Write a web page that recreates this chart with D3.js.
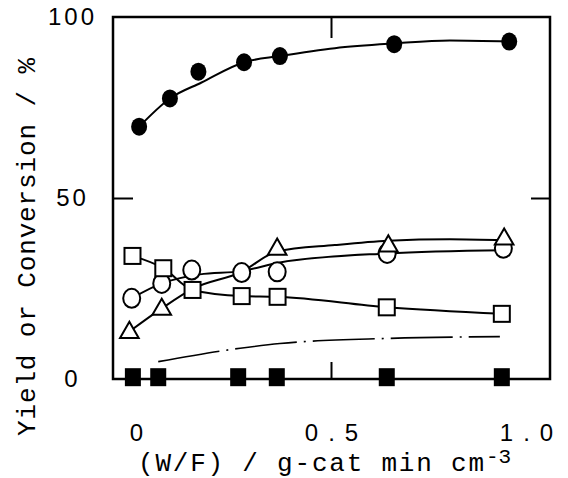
<!DOCTYPE html>
<html>
<head>
<meta charset="utf-8">
<script src="https://cdn.jsdelivr.net/npm/d3@7"></script>
<style>
    body { margin: 0; background: #fff; }
    svg { display: block; }
</style>
</head>
<body>
<svg id="chart" width="568" height="478"></svg>
<script>
// axis ticks
var xTicks = [0, 0.5, 1.0];
var xTickLabels = ["0", "0.5", "1.0"];
var yTicks = [0, 50, 100];
var yTickLabels = ["0", "50", "100"];

// filled circles (conversion)
var convX = [0.008, 0.087, 0.16, 0.277, 0.369, 0.662, 0.957];
var convY = [69.7, 77.5, 84.9, 87.5, 89.2, 92.5, 93.2];
var convCurveX = [0.008, 0.087, 0.168, 0.277, 0.369, 0.51, 0.662, 0.805, 0.957];
var convCurveY = [69.7, 77.5, 81.9, 87.5, 89.2, 91.4, 92.7, 93.5, 93.2];

// open circles
var circX = [-0.011, 0.066, 0.143, 0.271, 0.362, 0.644, 0.942];
var circY = [22.3, 26.4, 30.1, 29.4, 29.6, 34.7, 36.1];
var circCurveX = [-0.011, 0.066, 0.164, 0.271, 0.369, 0.644, 0.942];
var circCurveY = [22.3, 26.4, 28.9, 29.8, 32.2, 34.7, 35.6];

// open triangles (two are hidden under other symbols)
var triX = [-0.017, 0.066, 0.362, 0.647, 0.944];
var triY = [13.1, 19.5, 36.1, 37.0, 38.9];
var triCurveX = [-0.017, 0.066, 0.145, 0.271, 0.361, 0.51, 0.647, 0.805, 0.944];
var triCurveY = [13.1, 19.5, 24.9, 29.6, 35.2, 37.0, 38.2, 38.6, 38.3];

// open squares
var sqX = [-0.009, 0.07, 0.145, 0.271, 0.363, 0.643, 0.938];
var sqY = [34.0, 30.6, 24.6, 22.9, 22.7, 19.8, 18.0];

// filled squares
var fsqX = [-0.008, 0.057, 0.262, 0.361, 0.643, 0.938];
var fsqY = [0.5, 0.5, 0.5, 0.5, 0.5, 0.5];

// dash-dot line, no symbols
var dashX = [0.057, 0.267, 0.369, 0.643, 0.933];
var dashY = [4.8, 8.5, 9.8, 11.2, 11.7];

var svg = d3.select("#chart");
svg.append("rect").attr("width", 568).attr("height", 478).attr("fill", "#fff");

var x = d3.scaleLinear().domain([0, 1]).range([136, 526]);
var y = d3.scaleLinear().domain([0, 100]).range([379, 17]);
var left = 113, right = 550;

var line = d3.line()
    .x(function(d) { return x(d[0]); })
    .y(function(d) { return y(d[1]); })
    .curve(d3.curveMonotoneX);

// frame
svg.append("rect")
    .attr("x", left).attr("y", y(100))
    .attr("width", right - left).attr("height", y(0) - y(100))
    .attr("fill", "none").attr("stroke", "#000").attr("stroke-width", 2.5);

// inner ticks
function ticks(g) {
    g.select(".domain").remove();
    g.selectAll("line").attr("stroke", "#000").attr("stroke-width", 2);
}
svg.append("g").attr("transform", "translate(" + left + ",0)")
    .call(d3.axisLeft(y).tickValues([50]).tickSize(-20).tickFormat(""))
    .call(ticks);
svg.append("g").attr("transform", "translate(" + right + ",0)")
    .call(d3.axisRight(y).tickValues([50]).tickSize(-19).tickFormat(""))
    .call(ticks);
svg.append("g").attr("transform", "translate(0," + y(0) + ")")
    .call(d3.axisBottom(x).tickValues([0.5]).tickSize(-17).tickFormat(""))
    .call(ticks);
svg.append("g").attr("transform", "translate(0," + y(100) + ")")
    .call(d3.axisTop(x).tickValues([0.5]).tickSize(-21).tickFormat(""))
    .call(ticks);

// tick labels
var yAxis = svg.append("g")
    .call(d3.axisLeft(y).tickValues(yTicks).tickSize(0)
        .tickFormat(function(d, i) { return yTickLabels[i]; }));
yAxis.select(".domain").remove();
yAxis.selectAll("text")
    .attr("x", 71).attr("dx", 1.5).attr("text-anchor", "middle")
    .attr("font-family", "Liberation Sans, Arial, sans-serif")
    .attr("font-size", 24).attr("letter-spacing", 3)
    .attr("fill", "#000");

var xAxis = svg.append("g").attr("transform", "translate(0," + y(0) + ")")
    .call(d3.axisBottom(x).tickValues(xTicks).tickSize(0)
        .tickFormat(function(d, i) { return xTickLabels[i]; }));
xAxis.select(".domain").remove();
xAxis.selectAll("text")
    .attr("y", 62).attr("dy", null).attr("dx", 5)
    .attr("font-family", "Liberation Sans, Arial, sans-serif")
    .attr("font-size", 24).attr("letter-spacing", 10)
    .attr("fill", "#000");

// axis titles
var mono = "Liberation Mono, DejaVu Sans Mono, monospace";
var xTitle = svg.append("text")
    .attr("x", 138).attr("y", 471)
    .attr("font-family", mono).attr("font-size", 26);
xTitle.append("tspan")
    .attr("textLength", 346).attr("lengthAdjust", "spacing")
    .text("(W/F) / g-cat min cm");
xTitle.append("tspan").attr("x", 486).attr("dy", -8).attr("font-size", 21).text("-3");

svg.append("text")
    .attr("transform", "translate(35,436) rotate(-90)")
    .attr("font-family", mono).attr("font-size", 26)
    .attr("textLength", 378).attr("lengthAdjust", "spacing")
    .text("Yield or Conversion / %");

// curves
function curve(xs, ys) {
    return svg.append("path")
        .datum(d3.zip(xs, ys))
        .attr("d", line)
        .attr("fill", "none").attr("stroke", "#000").attr("stroke-width", 2);
}
curve(convCurveX, convCurveY);
curve(circCurveX, circCurveY);
curve(triCurveX, triCurveY);
curve(sqX, sqY);
curve(dashX, dashY).attr("stroke-width", 1.6).attr("stroke-dasharray", "62,7,2,7");

// symbols
svg.append("g").selectAll("ellipse").data(d3.zip(circX, circY)).join("ellipse")
    .attr("cx", function(d) { return x(d[0]); })
    .attr("cy", function(d) { return y(d[1]); })
    .attr("rx", 8.5).attr("ry", 9.5)
    .attr("fill", "#fff").attr("stroke", "#000").attr("stroke-width", 2);

var triangle = d3.symbol().type(d3.symbolTriangle).size(150);
svg.append("g").selectAll("path").data(d3.zip(triX, triY)).join("path")
    .attr("transform", function(d) { return "translate(" + x(d[0]) + "," + (y(d[1]) + 1) + ")"; })
    .attr("d", triangle)
    .attr("fill", "#fff").attr("stroke", "#000").attr("stroke-width", 2);

svg.append("g").selectAll("rect").data(d3.zip(sqX, sqY)).join("rect")
    .attr("x", function(d) { return x(d[0]) - 8; })
    .attr("y", function(d) { return y(d[1]) - 8; })
    .attr("width", 16).attr("height", 16)
    .attr("fill", "#fff").attr("stroke", "#000").attr("stroke-width", 2);

svg.append("g").selectAll("rect").data(d3.zip(fsqX, fsqY)).join("rect")
    .attr("x", function(d) { return x(d[0]) - 8; })
    .attr("y", function(d) { return y(d[1]) - 9; })
    .attr("width", 16).attr("height", 18)
    .attr("fill", "#000");

svg.append("g").selectAll("ellipse").data(d3.zip(convX, convY)).join("ellipse")
    .attr("cx", function(d) { return x(d[0]); })
    .attr("cy", function(d) { return y(d[1]); })
    .attr("rx", 8).attr("ry", 9)
    .attr("fill", "#000");
</script>
</body>
</html>
